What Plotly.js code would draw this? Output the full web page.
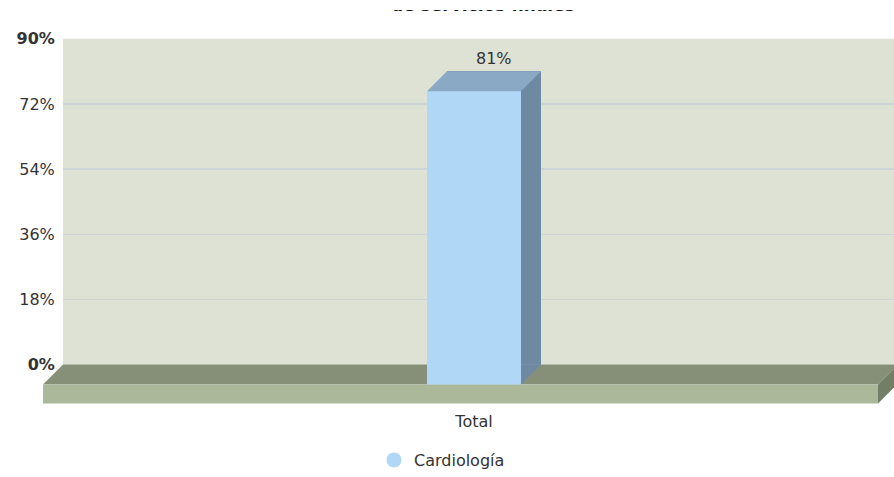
<!DOCTYPE html>
<html><head><meta charset="utf-8">
<script src="https://cdn.plot.ly/plotly-3.0.1.min.js"></script>
<style>html,body{margin:0;padding:0;background:#fff}#wrap{position:relative;width:894px;height:477px}#chart{width:894px;height:477px}#cover{position:absolute;left:0;top:0;width:894px;height:10px;background:#fff;z-index:5}</style>
</head><body><div id="wrap"><div id="chart"></div><div id="cover"></div></div>
<script>
const categories = ['Total'];
const seriesName = 'Cardiología';
const values = [81];
const tickVals = [0, 18, 36, 54, 72, 90];
const tickText = ['<b>0%</b>', '18%', '36%', '54%', '72%', '<b>90%</b>'];
const valueLabels = ['81%'];
const titleText = '<b>de servicios finales</b>';

const W = 894, H = 477;
const backL = 63, backT = 39, backB = 367;
const frontL = 43, frontR = 878, depth = 20;
const frontT = backT + depth, frontB = backB + depth;
const xIdx = categories.map((c, i) => i);
const xRangeFront = [-0.5162, 0.4838];
const scale = (frontR - frontL) / (xRangeFront[1] - xRangeFront[0]);
const xRangeBack = [xRangeFront[0], xRangeFront[0] + (W - backL) / scale];
const barPx = 94, half = barPx / 2;
const barW = barPx / scale;
const dFrac = depth / (frontR - frontL);

const cFront = '#b1d7f6', cTop = '#8aa9c5', cSide = '#6e8aa3';
const font = 'DejaVu Sans, Verdana, sans-serif';

const traces = [
  {type: 'bar', x: xIdx, y: values, xaxis: 'x', yaxis: 'y', width: barW,
   marker: {color: cSide, line: {width: 0}}, hoverinfo: 'skip', showlegend: false},
  {type: 'bar', x: xIdx, y: values, xaxis: 'x2', yaxis: 'y2', width: barW,
   marker: {color: cFront, line: {width: 0}}, name: seriesName, showlegend: false},
  {type: 'scatter', x: [null], y: [null], mode: 'markers', name: seriesName,
   marker: {symbol: 'circle', size: 15, color: cFront}, xaxis: 'x', yaxis: 'y'}
];

const floorRef = {xref: 'x2 domain', yref: 'y2 domain', ysizemode: 'pixel', yanchor: 0, layer: 'below'};
const shapes = [
  {type: 'rect', xref: 'x domain', yref: 'y domain', x0: 0, x1: 1, y0: 0, y1: 1,
   fillcolor: '#dde2d5', line: {width: 0}, layer: 'below'},
  Object.assign({type: 'path', path: `M0,0 L1,0 L${1 + dFrac},${depth} L${dFrac},${depth} Z`,
   fillcolor: '#868f78', line: {width: 0}}, floorRef),
  Object.assign({type: 'path', path: `M0,0 L1,0 L1,-19 L0,-19 Z`,
   fillcolor: '#abb99a', line: {width: 0}}, floorRef),
  Object.assign({type: 'path', path: `M1,0 L${1 + dFrac},${depth} L${1 + dFrac},1 L1,-19 Z`,
   fillcolor: '#737e67', line: {width: 0}}, floorRef)
];
xIdx.forEach((x, i) => {
  shapes.push({type: 'path', xref: 'x2', yref: 'y2', xsizemode: 'pixel', ysizemode: 'pixel',
    xanchor: x, yanchor: values[i],
    path: `M${-half},0 L${half},0 L${half + depth},${depth} L${-half + depth},${depth} Z`,
    fillcolor: cTop, line: {width: 0}, layer: 'above'});
  shapes.push({type: 'path', xref: 'x2', yref: 'y2', xsizemode: 'pixel', ysizemode: 'pixel',
    xanchor: x, yanchor: 0,
    path: `M${half},0 L${half + depth},${depth} L${half},${depth} Z`,
    fillcolor: cSide, line: {width: 0}, layer: 'above'});
});

const annotations = xIdx.map((x, i) => ({
  xref: 'x', yref: 'y', x: x, y: values[i], text: valueLabels[i], showarrow: false,
  yanchor: 'bottom', yshift: 1, font: {family: font, size: 16, color: '#333'}
}));
annotations.push({xref: 'paper', yref: 'paper', x: 483 / W, y: (H - 17) / H,
  xanchor: 'center', yanchor: 'bottom', text: titleText, showarrow: false,
  font: {family: font, size: 17, color: '#111'}});

const layout = {
  width: W, height: H, margin: {l: 0, r: 0, t: 0, b: 0},
  paper_bgcolor: '#fff', plot_bgcolor: 'rgba(0,0,0,0)',
  font: {family: font, size: 16, color: '#333'},
  showlegend: true,
  legend: {orientation: 'h', x: 442 / W, xanchor: 'center', y: (H - 463) / H, yanchor: 'middle',
    font: {family: font, size: 16, color: '#333'}},
  xaxis: {domain: [backL / W, 1], range: xRangeBack, showgrid: false, zeroline: false,
    showticklabels: false, showline: false, fixedrange: true},
  yaxis: {domain: [(H - backB) / H, (H - backT) / H], range: [0, 90], tickvals: tickVals, ticktext: tickText,
    showgrid: true, gridcolor: '#cdd4d5', gridwidth: 1.5, zeroline: false, showline: false,
    ticks: 'outside', ticklen: 4, tickcolor: 'rgba(0,0,0,0)', tickfont: {family: font, size: 16, color: '#333'},
    fixedrange: true},
  xaxis2: {domain: [frontL / W, frontR / W], range: xRangeFront, anchor: 'y2', tickvals: xIdx, ticktext: categories,
    showgrid: false, zeroline: false, showline: false, ticks: 'outside', ticklen: 22,
    tickcolor: 'rgba(0,0,0,0)', tickfont: {family: font, size: 16, color: '#333'}, fixedrange: true},
  yaxis2: {domain: [(H - frontB) / H, (H - frontT) / H], range: [0, 90], anchor: 'x2',
    showgrid: false, zeroline: false, showticklabels: false, showline: false, fixedrange: true},
  bargap: 0,
  shapes: shapes,
  annotations: annotations
};

Plotly.newPlot('chart', traces, layout, {displayModeBar: false, staticPlot: true});
</script></body></html>
